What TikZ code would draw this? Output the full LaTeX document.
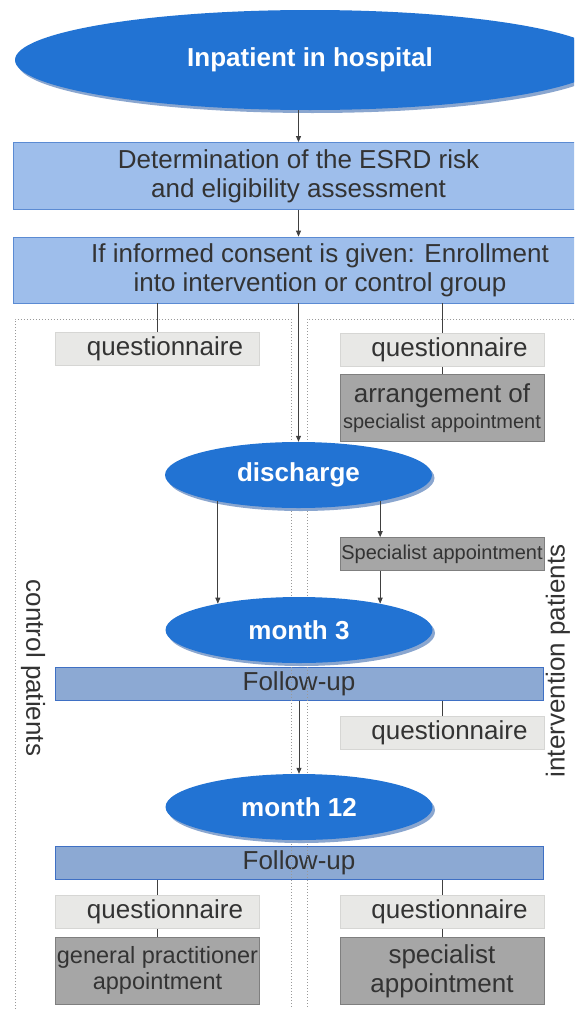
\documentclass[tikz,border=0pt]{standalone}
\usepackage{fontspec}
\setmainfont{Liberation Sans}
\usetikzlibrary{arrows.meta,positioning,shapes.geometric,shadows}
\definecolor{ink}{HTML}{333333}
\definecolor{ovalblue}{HTML}{2273D3}
\definecolor{ovalshade}{HTML}{8AA6CF}
\definecolor{pale}{HTML}{9EBEEB}
\definecolor{paleline}{HTML}{5B8BD3}
\definecolor{followblue}{HTML}{8CA9D3}
\definecolor{followline}{HTML}{3F70C4}
\definecolor{questgray}{HTML}{E8E8E6}
\definecolor{questline}{HTML}{D6D6D4}
\definecolor{apptgray}{HTML}{A6A6A6}
\definecolor{apptline}{HTML}{7F7F7F}
\definecolor{conn}{HTML}{404040}
\tikzset{oval/.style={ellipse,fill=ovalblue,text=white,font=\fontsize{26}{29}\selectfont\bfseries,inner sep=0pt,minimum width=267pt,minimum height=66pt,drop shadow={shadow xshift=2.5pt,shadow yshift=-3pt,fill=ovalshade,opacity=1}}, wide/.style={draw=paleline,fill=pale,line width=0.8pt,align=center,minimum width=571pt,minimum height=67pt,inner sep=0pt}, follow/.style={draw=followline,fill=followblue,line width=0.8pt,minimum width=488pt,minimum height=33pt,inner sep=0pt}, quest/.style={draw=questline,fill=questgray,line width=0.8pt,minimum width=204pt,minimum height=33pt,inner sep=0pt,execute at begin node=\hspace*{15pt}}, appt/.style={draw=apptline,fill=apptgray,line width=0.8pt,align=center,minimum width=204pt,inner sep=0pt}, arr/.style={-{Triangle[length=6pt,width=5pt]},draw=conn,line width=0.8pt}, link/.style={draw=conn,line width=0.8pt}, frame/.style={draw=gray!80,line width=0.9pt,dash pattern=on 0.9pt off 2.1pt}}

\begin{document}
\begin{tikzpicture}[x=1pt,y=-1pt,font=\fontsize{26}{29}\selectfont,text=ink]
\useasboundingbox (0,0) rectangle (574,1009);
\clip (0,0) rectangle (574,1009);
\node[wide](risk) at (298.5,176){Determination of the ESRD risk\\and eligibility assessment};
\node[wide,minimum width=614pt,minimum height=66pt](enr) at (320,270){If informed consent is given: Enrollment\\into intervention or control group};
\node[quest](qc) at (157.5,349){questionnaire};\node[quest](qi) at (442,350){questionnaire};
\node[appt,minimum height=67pt,below=7pt of qi](arrg){arrangement of\\[-3pt]{\fontsize{20}{22}\selectfont specialist appointment}};
\node[appt,minimum height=33pt,font=\fontsize{20}{22}\selectfont](spec) at (442,554){Specialist appointment};
\node[follow](fu3) at (299,684){Follow-up};\node[quest](qi3) at (442,732.5){questionnaire};
\node[follow](fu12) at (299,863){Follow-up};
\node[quest](qc12) at (157.5,912){questionnaire};\node[quest](qi12) at (442,912){questionnaire};
\node[appt,minimum height=67pt,below=8pt of qc12,font=\fontsize{23.5}{26}\selectfont](gp){general practitioner\\appointment};
\node[appt,minimum height=67pt,below=8pt of qi12](sp12){specialist\\appointment};
\node[rotate=-90](ctl) at (33,668){control patients};\node[rotate=90](int) at (558,661){intervention patients};
\draw[frame](15,1009)--(15,319)--(291,319)--(291,1009);\draw[frame](574,319)--(307,319)--(307,1009);
\node[oval,minimum width=590pt,minimum height=100pt](inp) at (310,60){Inpatient in hospital};
\node[oval](dis) at (298.5,475){discharge};\node[oval](m3) at (299,630){month 3};\node[oval](m12) at (299,807){month 12};
\draw[arr](risk.north |- inp.south)--(risk.north);\draw[arr](risk.south)--(risk.south |- enr.north);
\draw[arr](dis.north |- enr.south)--(dis.north);
\draw[link](qc.north |- enr.south)--(qc.north);\draw[link](qi.north |- enr.south)--(qi.north);\draw[link](qi)--(arrg);
\draw[arr](m3.162 |- dis.197)--(m3.162);\draw[arr](m3.18 |- dis.-17)--(m3.18 |- spec.north);\draw[arr](spec.south -| m3.18)--(m3.18);
\draw[link](fu3.south -| qi3.north)--(qi3.north);\draw[arr](fu3.south -| m12.north)--(m12.north);
\draw[link](fu12.south -| qc12.north)--(qc12.north);\draw[link](fu12.south -| qi12.north)--(qi12.north);
\draw[link](qc12)--(gp);\draw[link](qi12)--(sp12);
\end{tikzpicture}
\end{document}
